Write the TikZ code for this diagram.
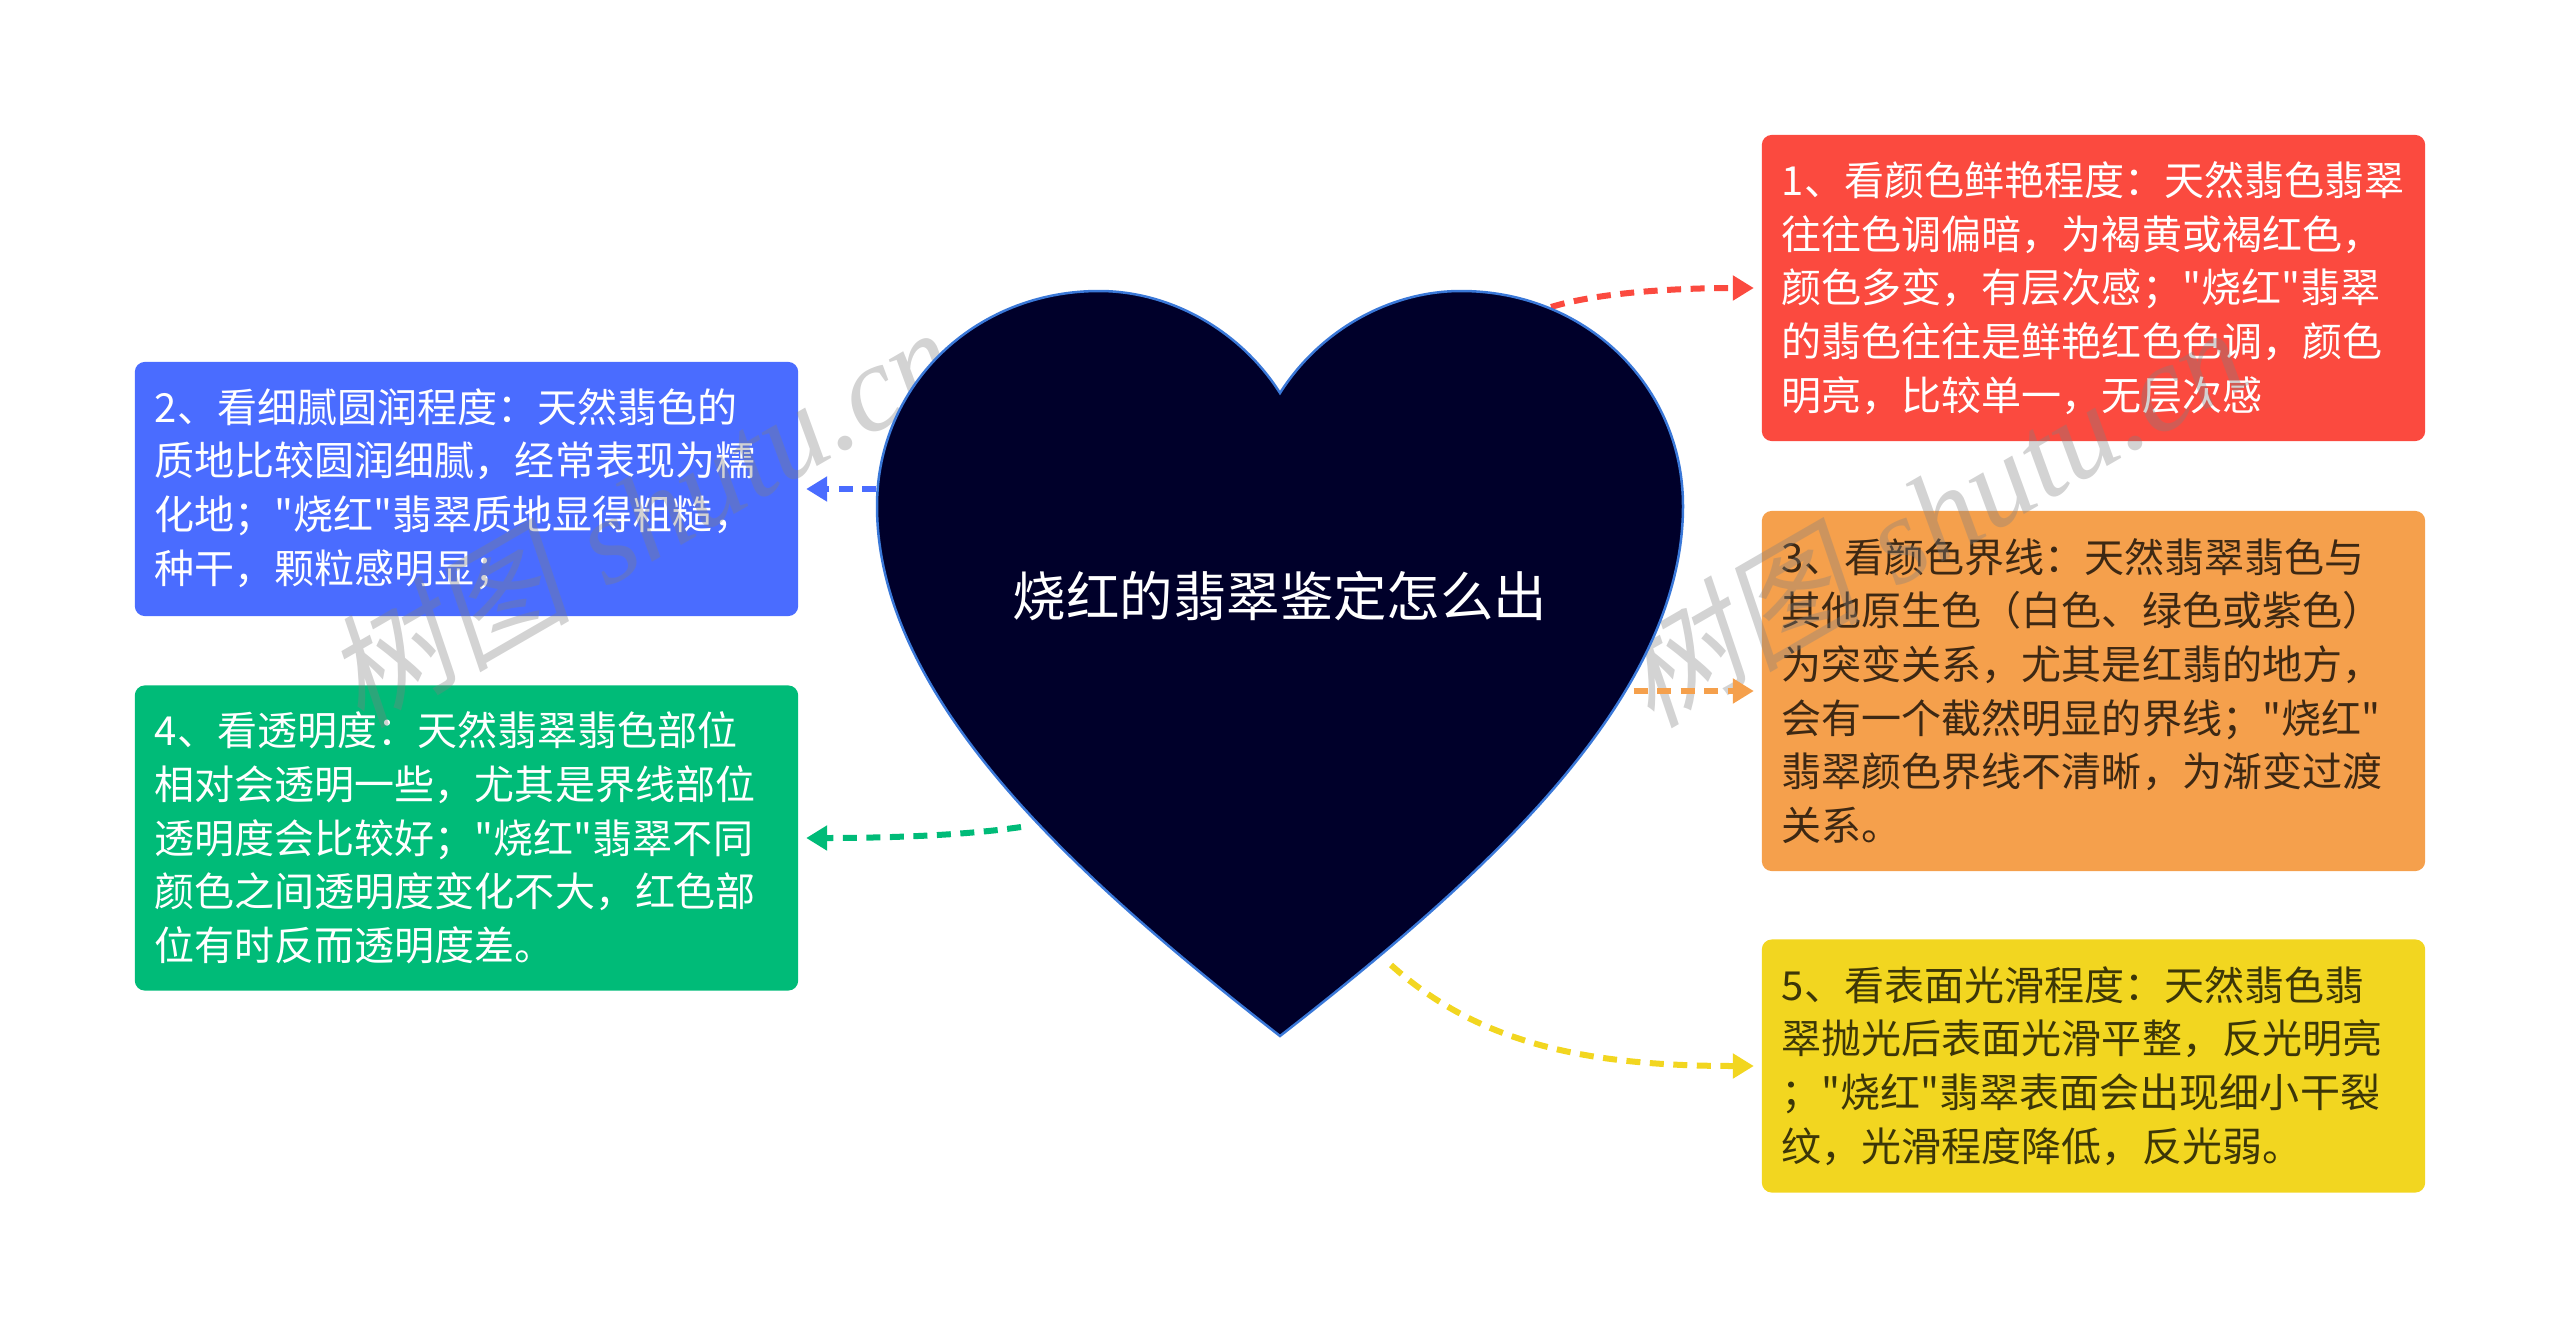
\documentclass[tikz,border=0pt]{standalone}
\usepackage{fontspec}
\newfontfamily\cjkfont{Noto Sans CJK SC}
\newfontfamily\wmcjk[FakeSlant=0.2]{Noto Sans CJK SC}
\newfontfamily\wmlatin{Liberation Serif}
\usetikzlibrary{arrows.meta}
\definecolor{cred}{HTML}{FB4A3F}
\definecolor{cblue}{HTML}{4A6CFF}
\definecolor{cgreen}{HTML}{00BB78}
\definecolor{corange}{HTML}{F5A04C}
\definecolor{cyellow}{HTML}{F2D620}
\definecolor{cheart}{HTML}{00002A}
\definecolor{cedge}{HTML}{3A78D8}
\tikzset{
  box/.style={rectangle, rounded corners=0.1cm, minimum width=6.63cm, text width=6.23cm, inner xsep=0.2cm, inner ysep=0pt, outer sep=0pt, align=left, text=white, font=\cjkfont\fontsize{11.38}{15.28}\selectfont},
  link/.style={line width=0.06cm, dash pattern=on 0.14cm off 0.095cm, shorten >=0.08cm, -{Triangle[length=0.21cm,width=0.24cm]}},
  mark text/.style={rotate=30, text=gray, opacity=0.35, font=\fontsize{35}{40}\selectfont},
}
\begin{document}
\begin{tikzpicture}[x=0.01cm,y=-0.01cm]
\useasboundingbox (0,0) rectangle (2560,1327);
\node[box, fill=cred, minimum height=3.06cm] (n1) at (2093.5,288) {1、看颜色鲜艳程度：天然翡色翡翠\\往往色调偏暗，为褐黄或褐红色，\\颜色多变，有层次感；"烧红"翡翠\\的翡色往往是鲜艳红色色调，颜色\\明亮，比较单一，无层次感};
\node[box, fill=cblue, minimum height=2.54cm] (n2) at (466.5,489) {2、看细腻圆润程度：天然翡色的\\质地比较圆润细腻，经常表现为糯\\化地；"烧红"翡翠质地显得粗糙，\\种干，颗粒感明显；};
\node[box, fill=corange, text=black!75!corange, minimum height=3.6cm] (n3) at (2093.5,691) {3、看颜色界线：天然翡翠翡色与\\其他原生色（白色、绿色或紫色）\\为突变关系，尤其是红翡的地方，\\会有一个截然明显的界线；"烧红"\\翡翠颜色界线不清晰，为渐变过渡\\关系。};
\node[box, fill=cgreen, minimum height=3.05cm] (n4) at (466.5,838) {4、看透明度：天然翡翠翡色部位\\相对会透明一些，尤其是界线部位\\透明度会比较好；"烧红"翡翠不同\\颜色之间透明度变化不大，红色部\\位有时反而透明度差。};
\node[box, fill=cyellow, text=black!75!cyellow, minimum height=2.53cm] (n5) at (2093.5,1066) {5、看表面光滑程度：天然翡色翡\\翠抛光后表面光滑平整，反光明亮\\；"烧红"翡翠表面会出现细小干裂\\纹，光滑程度降低，反光弱。};
\node[mark text] (w1) at (640,515) {{\wmcjk 树图} {\wmlatin\itshape shutu.cn}};
\node[mark text] (w2) at (1930,515) {{\wmcjk 树图} {\wmlatin\itshape shutu.cn}};
\coordinate (a1) at (1551,307);
\coordinate (a2) at (900,489);
\coordinate (a3) at (1610,691);
\coordinate (a4) at (1021,827);
\coordinate (a5) at (1391,965);
\draw[link, cred] (a1) .. controls (1600,292) and (1680,288) .. (n1.west);
\draw[link, cblue] (a2) -- (n2.east);
\draw[link, corange] (a3) -- (n3.west);
\draw[link, cgreen] (a4) .. controls (960,836) and (880,838) .. (n4.east);
\draw[link, cyellow] (a5) .. controls (1480,1045) and (1590,1066) .. (n5.west);
\draw[fill=cheart, draw=cedge, line width=0.025cm] (1280,393) .. controls (1240,330) and (1170,291) .. (1099,291) .. controls (975,291) and (877,385) .. (877,506) .. controls (877,700) and (1080,880) .. (1280,1036) .. controls (1480,880) and (1683,700) .. (1683,506) .. controls (1683,385) and (1585,291) .. (1461,291) .. controls (1390,291) and (1320,330) .. (1280,393) -- cycle;
\node[text=white, font=\cjkfont\fontsize{15.2}{18}\selectfont] (root) at (1280,596) {烧红的翡翠鉴定怎么出};
\end{tikzpicture}
\end{document}
